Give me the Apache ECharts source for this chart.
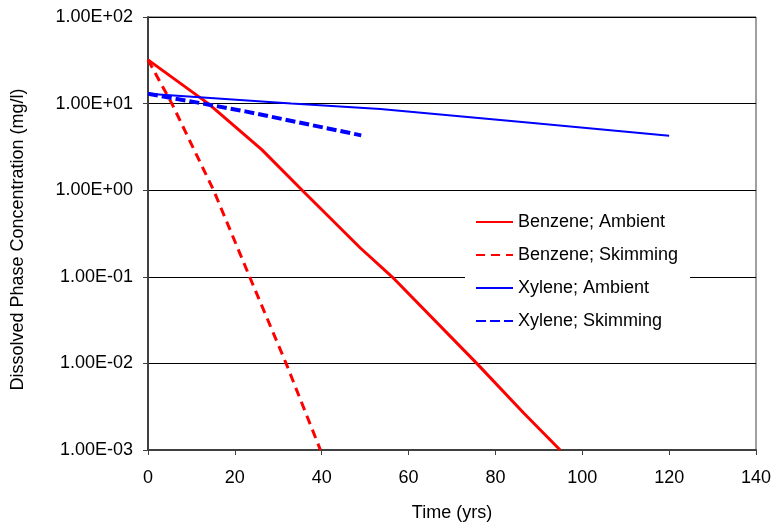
<!DOCTYPE html>
<html>
<head>
<meta charset="utf-8">
<script src="https://cdn.jsdelivr.net/npm/echarts@6/dist/echarts.min.js"></script>
<style>
html,body{margin:0;padding:0;background:#fff;}
#chart{width:772px;height:523px;}
</style>
</head>
<body>
<div id="chart"></div>
<script>
// Benzene; Ambient
var benzeneAmbientT = [0, 13.9, 26.2, 35.5, 48.9, 56.2, 75.7, 86.5, 94.9];
var benzeneAmbientV = [32, 10, 2.94, 1.0, 0.215, 0.1, 0.01, 0.00267, 0.001];
// Benzene; Skimming
var benzeneSkimT = [0, 5.5, 15.1, 23.4, 31.8, 39.7];
var benzeneSkimV = [32, 10, 1.0, 0.1, 0.01, 0.001];
// Xylene; Ambient
var xyleneAmbientT = [0, 33, 53.5, 88, 120];
var xyleneAmbientV = [13, 10, 8.67, 6.0, 4.26];
// Xylene; Skimming
var xyleneSkimT = [0, 12.7, 22.4, 49.1];
var xyleneSkimV = [13, 10, 8.13, 4.3];

var seriesNames = ['Benzene; Ambient', 'Benzene; Skimming', 'Xylene; Ambient', 'Xylene; Skimming'];
var xTitle = 'Time (yrs)';
var yTitle = 'Dissolved Phase Concentration (mg/l)';

function pairs(t, v) { return t.map(function (x, i) { return [x, v[i]]; }); }
function sciLabel(val) {
  var e = Math.round(Math.log10(val));
  var sign = e < 0 ? '-' : '+';
  var a = Math.abs(e);
  return '1.00E' + sign + (a < 10 ? '0' : '') + a;
}

var FONT = '"Liberation Sans", Arial, sans-serif';
var chart = echarts.init(document.getElementById('chart'), null, {renderer: 'canvas'});
chart.setOption({
  animation: false,
  backgroundColor: '#ffffff',
  grid: {left: 148, right: 16, top: 17, bottom: 73, containLabel: false, outerBoundsMode: 'none',
         show: true, borderColor: '#404040', borderWidth: 1, backgroundColor: 'transparent'},
  legend: {
    orient: 'vertical', left: 465, top: 203,
    padding: [10, 12, 10, 10],
    backgroundColor: '#ffffff',
    itemWidth: 37, itemHeight: 14, itemGap: 15,
    itemStyle: {opacity: 0},
    textStyle: {fontFamily: FONT, fontSize: 18, color: '#000'},
    data: seriesNames
  },
  xAxis: {
    type: 'value', min: 0, max: 140, interval: 20,
    name: xTitle, nameLocation: 'middle', nameGap: 54,
    nameTextStyle: {fontFamily: FONT, fontSize: 18, color: '#000'},
    axisLine: {lineStyle: {color: '#404040', width: 2}},
    axisTick: {show: true, inside: false, length: 5, lineStyle: {color: '#404040', width: 1}},
    axisLabel: {fontFamily: FONT, fontSize: 18, color: '#000', margin: 19},
    splitLine: {show: false}
  },
  yAxis: {
    type: 'log', logBase: 10, min: 0.001, max: 100,
    name: yTitle, nameLocation: 'middle', nameGap: 121,
    nameTextStyle: {fontFamily: FONT, fontSize: 18, color: '#000', padding: [0, 12, 0, 0]},
    axisLine: {show: true, lineStyle: {color: '#404040', width: 2}},
    axisTick: {show: true, inside: false, length: 5, lineStyle: {color: '#404040', width: 1}},
    axisLabel: {fontFamily: FONT, fontSize: 18, color: '#000', margin: 15, formatter: sciLabel},
    splitLine: {show: true, lineStyle: {color: '#000000', width: 1}},
    minorTick: {show: false}
  },
  series: [
    {name: seriesNames[0], type: 'line', data: pairs(benzeneAmbientT, benzeneAmbientV), symbol: 'none',
     lineStyle: {color: '#ff0000', width: 3}, itemStyle: {color: '#ff0000'}},
    {name: seriesNames[1], type: 'line', data: pairs(benzeneSkimT, benzeneSkimV), symbol: 'none',
     lineStyle: {color: '#ff0000', width: 3, type: [9, 6]}, itemStyle: {color: '#ff0000'}},
    {name: seriesNames[2], type: 'line', data: pairs(xyleneAmbientT, xyleneAmbientV), symbol: 'none',
     lineStyle: {color: '#0000ff', width: 2}, itemStyle: {color: '#0000ff'}},
    {name: seriesNames[3], type: 'line', data: pairs(xyleneSkimT, xyleneSkimV), symbol: 'none',
     lineStyle: {color: '#0000ff', width: 4, type: [10, 4]}, itemStyle: {color: '#0000ff'}}
  ]
});
</script>
</body>
</html>
